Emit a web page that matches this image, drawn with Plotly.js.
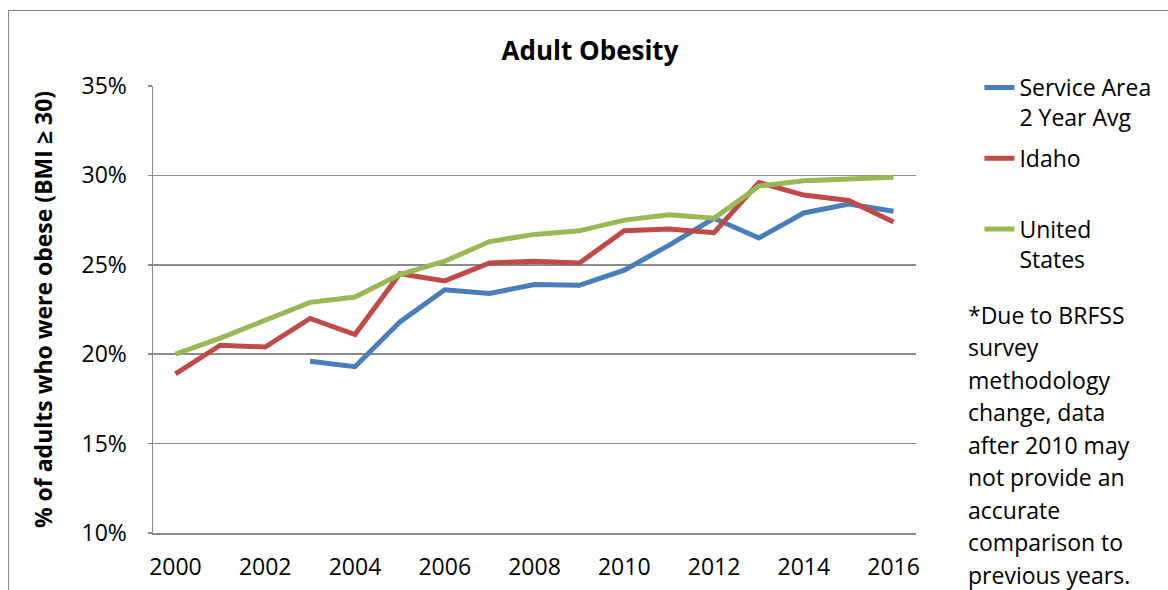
<!DOCTYPE html>
<html>
<head>
<meta charset="utf-8">
<script src="https://cdn.plot.ly/plotly-3.0.1.min.js"></script>
<style>
  html, body { margin: 0; padding: 0; background: #fff; }
  #wrap { position: relative; width: 1168px; height: 590px; overflow: hidden; }
  #chart { position: absolute; left: 0; top: 0; width: 1168px; height: 590px; }
  #frame { position: absolute; left: 8px; top: 10px; width: 1200px; height: 600px;
           border-left: 1.5px solid #8c8c8c; border-top: 1.5px solid #8c8c8c; pointer-events: none; }
</style>
</head>
<body>
<div id="wrap">
  <div id="chart"></div>
  <div id="frame"></div>
</div>
<script>
const years = [2000, 2001, 2002, 2003, 2004, 2005, 2006, 2007, 2008, 2009, 2010, 2011, 2012, 2013, 2014, 2015, 2016];
const serviceArea = [null, null, null, 19.6, 19.3, 21.8, 23.6, 23.4, 23.9, 23.85, 24.7, 26.1, 27.6, 26.5, 27.9, 28.4, 28.0];
const idaho = [18.9, 20.5, 20.4, 22.0, 21.1, 24.5, 24.1, 25.1, 25.2, 25.1, 26.9, 27.0, 26.8, 29.6, 28.9, 28.6, 27.4];
const unitedStates = [20.0, 20.9, 21.9, 22.9, 23.2, 24.45, 25.2, 26.3, 26.7, 26.9, 27.5, 27.8, 27.6, 29.4, 29.7, 29.8, 29.9];
const seriesNames = ["Service Area<br>2 Year Avg", "Idaho<br> ", "United<br>States"];
const seriesColors = ["#4A7EBB", "#BE4B48", "#98B954"];
const xTickVals = [2000, 2002, 2004, 2006, 2008, 2010, 2012, 2014, 2016];
const xTickText = ["2000", "2002", "2004", "2006", "2008", "2010", "2012", "2014", "2016"];
const yTickVals = [10, 15, 20, 25, 30, 35];
const yTickText = ["10%", "15%", "20%", "25%", "30%", "35%"];
const titleText = "Adult Obesity";
const yTitleText = "% of adults who were obese (BMI \u2265 30)";
const noteLines = ["*Due to BRFSS", "survey", "methodology", "change, data", "after 2010 may", "not provide an", "accurate", "comparison to", "previous years."];

const FONT = "'Open Sans', sans-serif";
const FS = 23;
const allSeries = [serviceArea, idaho, unitedStates];
const traces = allSeries.map((vals, i) => ({
  type: "scatter",
  mode: "lines",
  x: years,
  y: vals,
  name: seriesNames[i],
  legendgroup: "g" + i,
  line: { color: seriesColors[i], width: 5 },
  connectgaps: false
}));

// plot area in px: left 153, right 923, top 86, bottom 533.3
const L = 153, R = 923, T = 86, B = 533.3;
const px2x = p => (p - L) / (R - L);
const px2y = p => (B - p) / (B - T);

const annotations = noteLines.map((t, i) => ({
  xref: "paper", yref: "paper",
  x: px2x(973), y: px2y(315 + i * 32.5),
  xanchor: "left", yanchor: "middle",
  text: t, showarrow: false,
  font: { family: FONT, size: FS, color: "#000" }
}));

const layout = {
  width: 1168, height: 590,
  margin: { l: L, r: 1168 - R, t: T, b: 590 - B },
  paper_bgcolor: "#fff", plot_bgcolor: "#fff",
  font: { family: FONT, size: FS, color: "#000" },
  title: { text: "<b>" + titleText + "</b>", x: 590 / 1168, xanchor: "center", y: 1 - 51 / 590, yanchor: "middle",
           font: { family: FONT, size: 26, color: "#000" } },
  xaxis: {
    type: "linear", range: [1999.5, 2016.5],
    tickvals: xTickVals, ticktext: xTickText,
    showgrid: false, zeroline: false,
    showline: true, linecolor: "#8c8c8c", linewidth: 1.5,
    ticks: "", ticklabelstandoff: 13,
    tickfont: { family: FONT, size: FS, color: "#000" },
    mirror: false, fixedrange: true
  },
  yaxis: {
    range: [10, 35], tickvals: yTickVals, ticktext: yTickText,
    showgrid: true, gridcolor: "#8c8c8c", gridwidth: 1.5,
    zeroline: false, showline: true, linecolor: "#8c8c8c", linewidth: 1.5,
    ticks: "outside", ticklen: 4, tickcolor: "#8c8c8c", tickwidth: 1.5,
    ticklabelstandoff: 16,
    tickfont: { family: FONT, size: FS, color: "#000" },
    title: { text: "<b>" + yTitleText + "</b>", standoff: 22,
             font: { family: FONT, size: FS, color: "#000" } },
    fixedrange: true
  },
  showlegend: true,
  legend: {
    x: px2x(987), y: px2y(66), xanchor: "left", yanchor: "top",
    bgcolor: "rgba(0,0,0,0)", borderwidth: 0,
    font: { family: FONT, size: FS, color: "#000" },
    valign: "top", tracegroupgap: 8, itemwidth: 30
  },
  annotations: annotations
};

Plotly.newPlot("chart", traces, layout, { displayModeBar: false, staticPlot: true });
</script>
</body>
</html>
